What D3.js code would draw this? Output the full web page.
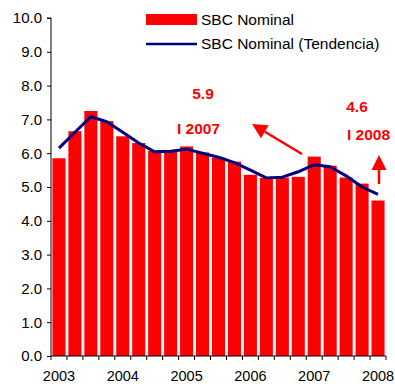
<!DOCTYPE html>
<html>
<head>
<meta charset="utf-8">
<script src="https://cdn.jsdelivr.net/npm/d3@7"></script>
<style>
  html, body { margin: 0; padding: 0; background: #fff; }
  svg { display: block; font-family: Arial, "Liberation Sans", sans-serif; }
</style>
</head>
<body>
<svg id="chart" width="395" height="384"></svg>
<script>
// Quarterly periods, 2003-I to 2008-I
const quarters = [
  "I 2003","II 2003","III 2003","IV 2003",
  "I 2004","II 2004","III 2004","IV 2004",
  "I 2005","II 2005","III 2005","IV 2005",
  "I 2006","II 2006","III 2006","IV 2006",
  "I 2007","II 2007","III 2007","IV 2007",
  "I 2008"
];
// SBC Nominal (bars)
const sbcNominal = [
  5.85, 6.65, 7.25, 6.95,
  6.50, 6.30, 6.07, 6.05,
  6.20, 6.02, 5.87, 5.75,
  5.36, 5.27, 5.28, 5.30,
  5.90, 5.63, 5.28, 5.10,
  4.60
];
// SBC Nominal (Tendencia) (line)
const sbcTrend = [
  6.15, 6.62, 7.08, 6.93,
  6.62, 6.30, 6.04, 6.06,
  6.12, 6.00, 5.88, 5.72,
  5.50, 5.27, 5.29, 5.45,
  5.66, 5.60, 5.33, 5.00,
  4.78
];
const yTicks = [0,1,2,3,4,5,6,7,8,9,10];
const yearLabels = ["2003","2004","2005","2006","2007","2008"];

// Callouts for the latest first-quarter values
const callouts = [
  { q: "I 2007", value: 5.9, label: "I 2007" },
  { q: "I 2008", value: 4.6, label: "I 2008" }
];

const svg = d3.select("#chart");
const red = "#ff0000", navy = "#000080";

const x = d3.scaleBand().domain(quarters).range([51, 386]).paddingInner(0.18).paddingOuter(0.09);
const y = d3.scaleLinear().domain([0, 10]).range([356, 18]);

// Bars
svg.append("g").selectAll("rect").data(quarters).join("rect")
  .attr("x", d => x(d))
  .attr("width", x.bandwidth())
  .attr("y", (d, i) => y(sbcNominal[i]))
  .attr("height", (d, i) => y(0) - y(sbcNominal[i]))
  .attr("fill", red);

// Trend line
const line = d3.line()
  .x((d, i) => x(quarters[i]) + x.bandwidth() / 2)
  .y(d => y(d));
svg.append("path").datum(sbcTrend)
  .attr("d", line)
  .attr("fill", "none")
  .attr("stroke", navy)
  .attr("stroke-width", 3)
  .attr("stroke-linejoin", "round");

// Y axis
const yAxis = svg.append("g").attr("transform", "translate(51,0)")
  .call(d3.axisLeft(y).tickValues(yTicks).tickFormat(d3.format(".1f")).tickSize(4).tickPadding(5));
yAxis.select(".domain").attr("stroke", "#000").attr("d", `M-4,${y(10)}H0V${y(0)}`);
yAxis.selectAll("text").attr("font-size", 15).attr("fill", "#000").attr("font-family", "Arial, 'Liberation Sans', sans-serif");

// X axis: tick marks on category boundaries, year labels under first quarters
const xAxisG = svg.append("g");
xAxisG.append("line")
  .attr("x1", 51).attr("x2", 386).attr("y1", y(0)).attr("y2", y(0))
  .attr("stroke", "#000");
const boundaries = d3.range(quarters.length + 1).map(i => x.range()[0] + i * (x.range()[1] - x.range()[0]) / quarters.length);
xAxisG.selectAll("line.tk").data(boundaries).join("line")
  .attr("class", "tk")
  .attr("x1", d => d).attr("x2", d => d)
  .attr("y1", y(0)).attr("y2", y(0) + 4)
  .attr("stroke", "#000");
xAxisG.selectAll("text").data(yearLabels).join("text")
  .attr("x", d => x("I " + d) + x.bandwidth() / 2)
  .attr("y", 381)
  .attr("text-anchor", "middle")
  .attr("font-size", 14.5)
  .text(d => d);

// Legend
const lg = svg.append("g");
lg.append("rect").attr("x", 146).attr("y", 14).attr("width", 51).attr("height", 11).attr("fill", red);
lg.append("text").attr("x", 201).attr("y", 25).attr("font-size", 15.5).text("SBC Nominal");
lg.append("line").attr("x1", 146).attr("x2", 197).attr("y1", 44).attr("y2", 44)
  .attr("stroke", navy).attr("stroke-width", 2.5);
lg.append("text").attr("x", 201).attr("y", 49).attr("font-size", 15.5).text("SBC Nominal (Tendencia)");

// Callout text
const ann = svg.append("g").attr("fill", red).attr("font-weight", "bold").attr("font-size", 15.5);
ann.append("text").attr("x", 203).attr("y", 99).attr("text-anchor", "middle").text(d3.format(".1f")(callouts[0].value));
ann.append("text").attr("x", 177).attr("y", 134).text(callouts[0].label);
ann.append("text").attr("x", 357).attr("y", 112).attr("text-anchor", "middle").text(d3.format(".1f")(callouts[1].value));
ann.append("text").attr("x", 347).attr("y", 140).text(callouts[1].label);

// Arrows
function arrow(x1, y1, x2, y2) {
  const a = Math.atan2(y2 - y1, x2 - x1);
  const len = 15, half = 7.5;
  const bx = x2 - len * Math.cos(a), by = y2 - len * Math.sin(a);
  svg.append("line")
    .attr("x1", x1).attr("y1", y1).attr("x2", bx).attr("y2", by)
    .attr("stroke", red).attr("stroke-width", 2.5);
  const p = [
    [x2, y2],
    [bx + half * Math.sin(a), by - half * Math.cos(a)],
    [bx - half * Math.sin(a), by + half * Math.cos(a)]
  ];
  svg.append("path").attr("d", "M" + p.join("L") + "Z").attr("fill", red);
}
arrow(302, 154, 252, 124);
arrow(379, 184, 379, 155);
</script>
</body>
</html>
